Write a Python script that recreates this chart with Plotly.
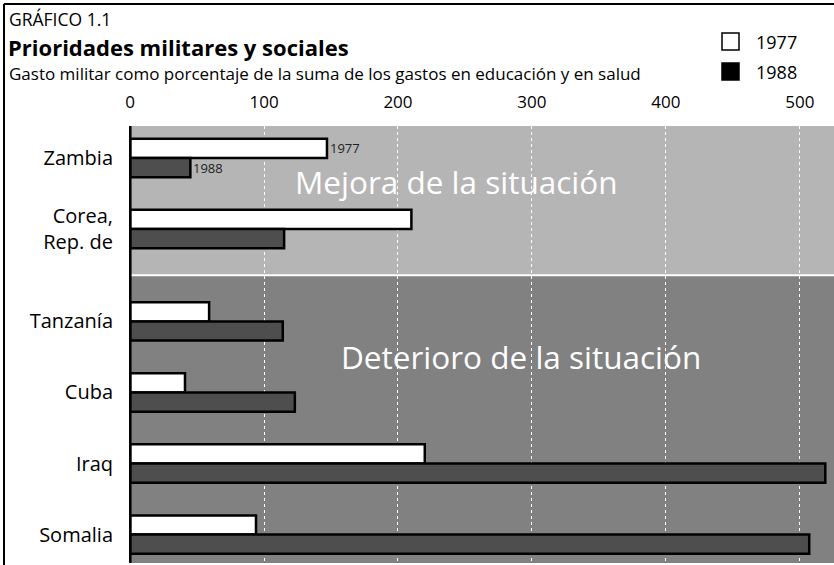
import plotly.graph_objects as go

# ---- data ----
countries = ["Zambia", "Corea,<br>Rep. de", "Tanzanía", "Cuba", "Iraq", "Somalia"]
group = ["Mejora", "Mejora", "Deterioro", "Deterioro", "Deterioro", "Deterioro"]
values_1977 = [147, 210, 59, 41, 220, 94]
values_1988 = [45, 115, 114, 123, 519, 507]
x_ticks = [0, 100, 200, 300, 400, 500]
region_labels = ["Mejora de la situación", "Deterioro de la situación"]

# ---- layout helpers ----
W, H = 834, 565
ML, MR, MT, MB = 129, 0, 126, 2
PW, PH = W - ML - MR, H - MT - MB
FONT = "Open Sans, Noto Sans, sans-serif"

def px(xp):
    return (xp - ML) / PW

def py(yp):
    return (H - MB - yp) / PH

# y positions: one unit per country, extra gap between the two groups
GAP = 0.3
ypos = []
for i, g in enumerate(group):
    ypos.append(i + (GAP if g == "Deterioro" else 0))
n_mejora = group.count("Mejora")
split = (ypos[n_mejora - 1] + ypos[n_mejora]) / 2
y_top, y_bot = -0.45, ypos[-1] + 0.40
BW = 0.27

fig = go.Figure()
fig.add_trace(go.Bar(
    y=ypos, x=values_1977, orientation="h", name="1977",
    width=BW, offset=-BW,
    marker=dict(color="white", line=dict(color="black", width=2.5)),
))
fig.add_trace(go.Bar(
    y=ypos, x=values_1988, orientation="h", name="1988",
    width=BW, offset=0,
    marker=dict(color="#4e4e4e", line=dict(color="black", width=2.5)),
))

shapes = [
    dict(type="rect", xref="paper", yref="y", x0=0, x1=1, y0=y_top, y1=split,
         fillcolor="#b5b5b5", line=dict(width=0), layer="below"),
    dict(type="rect", xref="paper", yref="y", x0=0, x1=1, y0=split, y1=y_bot,
         fillcolor="#818181", line=dict(width=0), layer="below"),
    dict(type="line", xref="paper", yref="y", x0=0, x1=1, y0=split, y1=split,
         line=dict(color="white", width=2), layer="below"),
    # zero axis line
    dict(type="line", xref="x", yref="paper", x0=0, x1=0, y0=0, y1=1,
         line=dict(color="black", width=3), layer="above"),
    # frame lines of the page
    dict(type="line", xref="paper", yref="paper", x0=px(4), x1=px(4), y0=py(4), y1=py(565),
         line=dict(color="black", width=2)),
    dict(type="line", xref="paper", yref="paper", x0=px(4), x1=px(834), y0=py(4), y1=py(4),
         line=dict(color="black", width=2)),
    # legend swatches
    dict(type="rect", xref="paper", yref="paper", x0=px(722), x1=px(739), y0=py(50), y1=py(33),
         fillcolor="white", line=dict(color="black", width=1.5)),
    dict(type="rect", xref="paper", yref="paper", x0=px(722), x1=px(739), y0=py(80), y1=py(63),
         fillcolor="black", line=dict(color="black", width=1.5)),
]

annotations = [
    dict(text="GRÁFICO 1.1", xref="paper", yref="paper", x=px(7), y=py(19),
         xanchor="left", yanchor="middle", showarrow=False,
         font=dict(family=FONT, size=17.5, color="black")),
    dict(text="<b>Prioridades militares y sociales</b>", xref="paper", yref="paper",
         x=px(6), y=py(47), xanchor="left", yanchor="middle", showarrow=False,
         font=dict(family=FONT, size=22, color="black")),
    dict(text="Gasto militar como porcentaje de la suma de los gastos en educación y en salud",
         xref="paper", yref="paper", x=px(7), y=py(73), xanchor="left", yanchor="middle",
         showarrow=False, font=dict(family=FONT, size=17, color="black")),
    dict(text="1977", xref="paper", yref="paper", x=px(754), y=py(42), xanchor="left",
         yanchor="middle", showarrow=False, font=dict(family=FONT, size=18, color="black")),
    dict(text="1988", xref="paper", yref="paper", x=px(754), y=py(72), xanchor="left",
         yanchor="middle", showarrow=False, font=dict(family=FONT, size=18, color="black")),
    # bar year labels on Zambia
    dict(text="1977", x=values_1977[0], y=ypos[0] - BW / 2, xref="x", yref="y",
         xanchor="left", yanchor="middle", xshift=1, showarrow=False,
         font=dict(family=FONT, size=13, color="#222")),
    dict(text="1988", x=values_1988[0], y=ypos[0] + BW / 2, xref="x", yref="y",
         xanchor="left", yanchor="middle", xshift=1, showarrow=False,
         font=dict(family=FONT, size=13, color="#222")),
    # region labels
    dict(text=region_labels[0], x=244, y=(ypos[0] + ypos[1]) / 2 - 0.17, xref="x", yref="y",
         xanchor="center", yanchor="middle", showarrow=False,
         font=dict(family=FONT, size=31.5, color="white")),
    dict(text=region_labels[1], x=292, y=(ypos[2] + ypos[3]) / 2, xref="x", yref="y",
         xanchor="center", yanchor="middle", showarrow=False,
         font=dict(family=FONT, size=31.5, color="white")),
]

fig.update_layout(
    width=W, height=H,
    margin=dict(l=ML, r=MR, t=MT, b=MB, autoexpand=False),
    paper_bgcolor="white", plot_bgcolor="#b5b5b5",
    showlegend=False, barmode="overlay",
    shapes=shapes, annotations=annotations,
    font=dict(family=FONT, color="black"),
    xaxis=dict(side="top", range=[-0.8, 525.5], tickvals=x_ticks,
               ticktext=[str(v) for v in x_ticks], showgrid=True,
               gridcolor="white", griddash="dot", gridwidth=1, zeroline=False,
               showline=False, ticks="", tickfont=dict(size=17), ticklabelstandoff=14),
    yaxis=dict(range=[y_bot, y_top], tickvals=ypos, ticktext=countries,
               showgrid=False, zeroline=False, showline=False, ticks="",
               tickfont=dict(size=20), ticklabelstandoff=15),
)

fig.write_html("out.html", config={"displayModeBar": False},
               post_script="document.body.style.margin='0';")
